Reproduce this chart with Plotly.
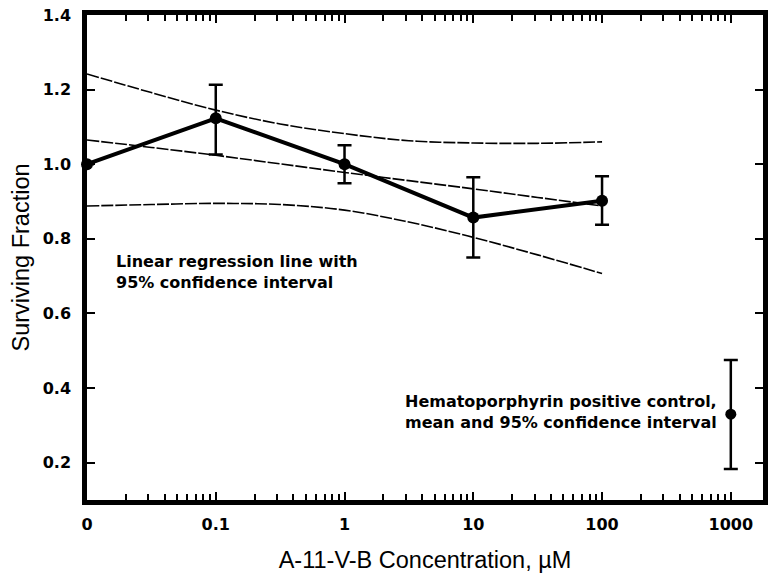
import plotly.graph_objects as go

# Measured data (A-11-V-B)
conc = [0.01, 0.1, 1, 10, 100]
frac = [1.0, 1.123, 1.0, 0.857, 0.902]
err_hi = [None, 0.090, 0.051, 0.108, 0.066]
err_lo = [None, 0.097, 0.051, 0.107, 0.064]

# Hematoporphyrin positive control
ctrl_x = [1000]
ctrl_y = [0.33]
ctrl_hi = [0.145]
ctrl_lo = [0.147]

# Regression line and 95% CI
reg_x = [0.01, 0.0316, 0.1, 0.316, 1, 3.16, 10, 31.6, 100]
reg_mid = [1.065, 1.045, 1.024, 1.001, 0.978, 0.956, 0.934, 0.911, 0.888]
reg_up = [1.242, 1.192, 1.145, 1.108, 1.082, 1.063, 1.057, 1.056, 1.060]
reg_lo = [0.888, 0.892, 0.895, 0.892, 0.877, 0.845, 0.804, 0.757, 0.707]

tick_vals = [0.01, 0.1, 1, 10, 100, 1000]
tick_text = ["0", "0.1", "1", "10", "100", "1000"]
y_ticks = [0.2, 0.4, 0.6, 0.8, 1.0, 1.2, 1.4]

fig = go.Figure()

for ys in (reg_up, reg_mid, reg_lo):
    fig.add_trace(go.Scatter(
        x=reg_x, y=ys, mode="lines", line_shape="spline",
        line=dict(color="black", width=1.6, dash="12px,2px"),
        hoverinfo="skip", showlegend=False))

fig.add_trace(go.Scatter(
    x=conc, y=frac, mode="lines+markers",
    line=dict(color="black", width=4),
    marker=dict(color="black", size=12),
    error_y=dict(type="data", array=err_hi, arrayminus=err_lo,
                 color="black", thickness=2.5, width=7, symmetric=False),
    cliponaxis=False, showlegend=False))

fig.add_trace(go.Scatter(
    x=ctrl_x, y=ctrl_y, mode="markers",
    marker=dict(color="black", size=11),
    error_y=dict(type="data", array=ctrl_hi, arrayminus=ctrl_lo,
                 color="black", thickness=2.5, width=7, symmetric=False),
    cliponaxis=False, showlegend=False))

bold = dict(family="DejaVu Sans", size=16, color="black")
tickf = dict(family="DejaVu Sans", size=16, color="black")
titlef = dict(family="Liberation Sans, Arial, sans-serif", size=23.5, color="black")

fig.add_annotation(
    xref="paper", yref="y", x=0.04, y=0.71, xanchor="left", yanchor="middle",
    text="<b>Linear regression line with<br>95% confidence interval</b>",
    showarrow=False, align="left", font=bold)
fig.add_annotation(
    xref="paper", yref="y", x=0.935, y=0.335, xanchor="right", yanchor="middle",
    text="<b>Hematoporphyrin positive control,<br>mean and 95% confidence interval</b>",
    showarrow=False, align="left", font=bold)

fig.update_layout(
    width=770, height=579,
    margin=dict(l=87, r=2, t=15, b=79),
    paper_bgcolor="white", plot_bgcolor="white",
    font=dict(family="Liberation Sans, Arial, sans-serif", color="black"),
    xaxis=dict(
        type="log", range=[-2, 3.25],
        tickvals=tick_vals, ticktext=["<b>%s</b>" % t for t in tick_text],
        ticks="inside", ticklen=8, tickwidth=2, tickcolor="black",
        minor=dict(ticks="inside", ticklen=6, tickwidth=1.5, dtick="D1",
                   tickcolor="black", showgrid=False),
        showline=True, linewidth=4.5, linecolor="black", mirror="ticks",
        showgrid=False, zeroline=False,
        tickfont=tickf,
        title=dict(text="A-11-V-B Concentration, µM", standoff=20, font=titlef),
        ticklabelstandoff=6),
    yaxis=dict(
        range=[0.1, 1.4],
        tickvals=y_ticks, ticktext=["<b>%.1f</b>" % v for v in y_ticks],
        ticks="inside", ticklen=8, tickwidth=2, tickcolor="black",
        showline=True, linewidth=4.5, linecolor="black", mirror="ticks",
        showgrid=False, zeroline=False,
        tickfont=tickf,
        title=dict(text="Surviving Fraction", standoff=8, font=titlef),
        ticklabelstandoff=8),
)

fig.write_html("out.html")
